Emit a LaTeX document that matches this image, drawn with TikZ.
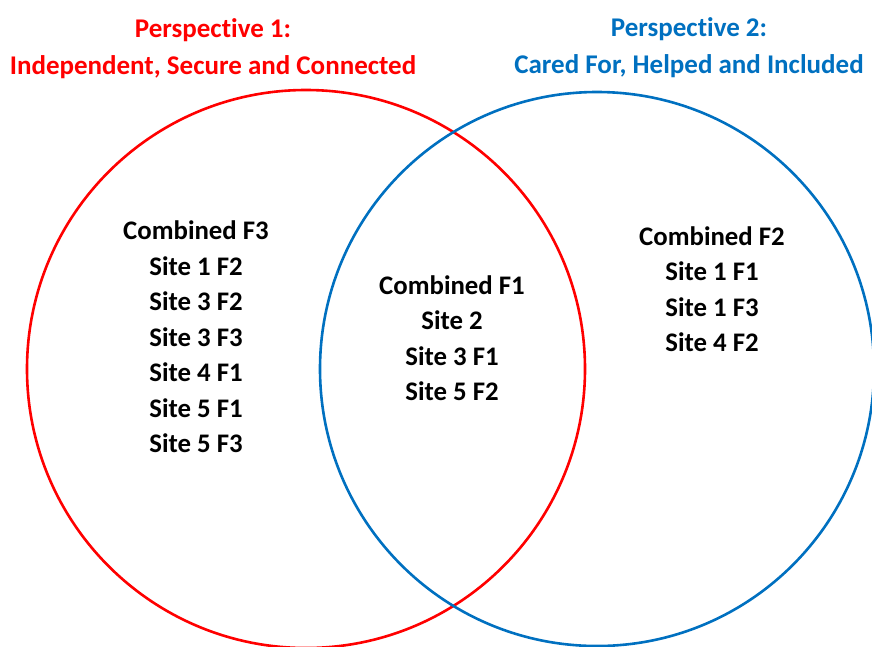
\documentclass[tikz,border=0pt]{standalone}
\usepackage{fontspec}
\setmainfont[Ligatures={NoCommon}]{Carlito}
\definecolor{pOneRed}{RGB}{255,0,0}
\definecolor{pTwoBlue}{RGB}{0,112,192}
\begin{document}
\begin{tikzpicture}[x=1pt,y=-1pt,
  ring/.style={line width=2.6pt},
  heading/.style={font=\bfseries\fontsize{27}{37}\selectfont, align=center},
  items/.style={font=\bfseries\fontsize{26.8}{35.5}\selectfont, align=center, text=black}]
\useasboundingbox (0,0) rectangle (872,646);
% the two perspective circles
\draw[ring, pOneRed] (306,369) circle[radius=279];
\draw[ring, pTwoBlue] (597,369) circle[radius=277];
% headings
\node[heading, text=pOneRed] (h1) at (213,49) {Perspective 1:\\Independent, Secure and Connected};
\node[heading, text=pTwoBlue] (h2) at (689,48) {Perspective 2:\\Cared For, Helped and Included};
% contents of each region
\node[items] (left) at (196,337) {Combined F3\\Site 1 F2\\Site 3 F2\\Site 3 F3\\Site 4 F1\\Site 5 F1\\Site 5 F3};
\node[items] (mid) at (452,338) {Combined F1\\Site 2\\Site 3 F1\\Site 5 F2};
\node[items] (right) at (712,289) {Combined F2\\Site 1 F1\\Site 1 F3\\Site 4 F2};
\end{tikzpicture}
\end{document}
